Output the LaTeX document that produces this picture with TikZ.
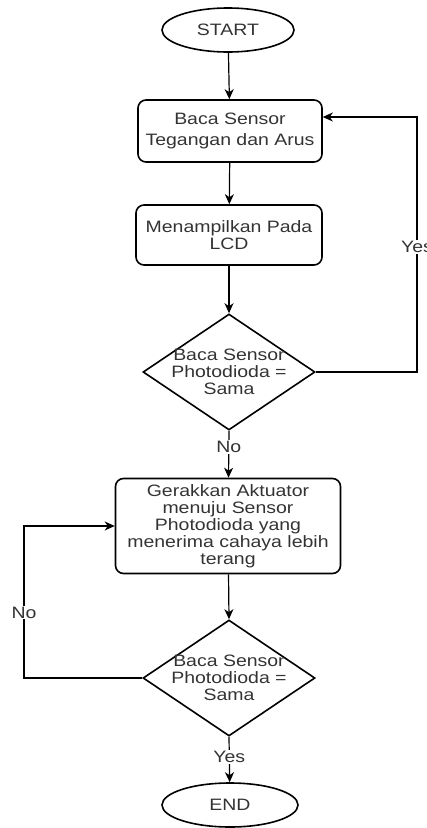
\documentclass[tikz,border=0pt]{standalone}
\usepackage{fontspec}
\setmainfont{Liberation Sans}[FakeStretch=1.18]
\usetikzlibrary{shapes.geometric,arrows.meta}
\definecolor{txt}{HTML}{333333}
\begin{document}
\begin{tikzpicture}[x=1pt,y=-1pt,
  every node/.style={font=\fontsize{16.5}{17}\selectfont, text=txt},
  term/.style={ellipse,draw=black,line width=1.6pt,minimum width=132pt,minimum height=44pt,inner sep=0pt},
  proc/.style={rectangle,rounded corners=8pt,draw=black,line width=1.6pt,align=center,inner sep=0pt},
  dec/.style={diamond,draw=black,line width=1.6pt,minimum width=172pt,minimum height=116pt,inner sep=0pt},
  dtext/.style={align=center,inner sep=0pt},
  lbl/.style={fill=white,inner sep=1pt},
  conn/.style={line width=1.2pt,-{Stealth[length=10pt,width=9pt,inset=3pt]}}]
\useasboundingbox (0,0) rectangle (427,828);
\node[term] (start) at (228,30) {START};
\node[proc,minimum width=184pt,minimum height=62pt,font=\fontsize{16.5}{20.5}\selectfont] (b1) at (230,131) {Baca Sensor\\Tegangan dan Arus};
\node[proc,minimum width=186pt,minimum height=60pt] (b2) at (229,235) {Menampilkan Pada\\LCD};
\node[dec] (d1) at (229,372) {};
\node[dtext] (t1) at (229,372) {Baca Sensor\\Photodioda =\\Sama};
\node[proc,minimum width=225pt,minimum height=95pt] (b3) at (228,526) {Gerakkan Aktuator\\menuju Sensor\\Photodioda yang\\menerima cahaya lebih\\terang};
\node[dec] (d2) at (229,678) {};
\node[dtext] (t2) at (229,678) {Baca Sensor\\Photodioda =\\Sama};
\node[term,minimum width=136pt] (end) at (230,805) {END};
\coordinate (r1) at (417,372);
\coordinate (r2) at (417,117);
\coordinate (l1) at (24,678);
\coordinate (l2) at (24,526);
\draw[conn] (start) -- (b1);
\draw[conn] (b1) -- (b2);
\draw[conn] (b2) -- (d1.north);
\draw[conn] (d1.south) -- node[lbl,pos=0.35] (no1) {No} (b3);
\draw[conn] (b3) -- (d2.north);
\draw[conn] (d2.south) -- node[lbl,pos=0.45] (yes2) {Yes} (end);
\draw[conn] (d1.east) -- (r1) -- node[lbl,pos=0.49] (yes1) {Yes} (r2) -- (b1.east |- r2);
\draw[conn] (d2.west) -- (l1) -- node[lbl,pos=0.43] (no2) {No} (l2) -- (b3.west);
\end{tikzpicture}
\end{document}
